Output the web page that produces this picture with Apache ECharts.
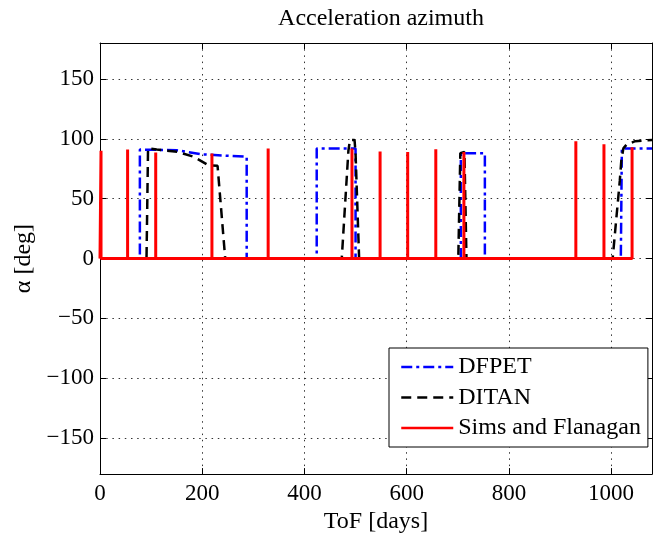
<!DOCTYPE html>
<html><head><meta charset="utf-8">
<script src="https://cdn.jsdelivr.net/npm/echarts@6/dist/echarts.min.js"></script>
<style>html,body{margin:0;padding:0;background:#fff}#c{width:653px;height:539px}</style>
</head><body><div id="c"></div>
<script>
// ---- data ----
const xTicks = [0, 200, 400, 600, 800, 1000];
const yTicks = [-150, -100, -50, 0, 50, 100, 150];
const xRange = [0, 1080];
const yRange = [-180, 180];

const dfpetDays  = [0, 78, 78, 150, 200, 287, 287, 424, 424, 500, 500, 706, 706, 753, 753, 1019, 1021, 1080];
const dfpetAlpha = [0, 0, 91, 90.5, 87, 85, 0, 0, 92, 92, 0, 0, 88, 88, 0, 0, 92, 92];

const ditanDays  = [0, 91, 94, 111, 153, 183, 212, 230, 245, 473, 486, 489, 498, 500, 507, 701, 705, 713, 717, 1003, 1017, 1020, 1024, 1030, 1047, 1080];
const ditanAlpha = [0, 0, 92, 91, 89, 85, 78, 77.5, 0, 0, 90, 99, 99, 88, 0, 0, 88, 89, 0, 0, 65, 82, 92, 95, 98, 99];

const simsSpikeDays  = [2, 54, 109, 219, 329, 493, 548, 602, 657, 712, 931, 986, 1041];
const simsSpikeAlpha = [90, 91, 88.5, 87.7, 92, 92, 89.4, 89, 91.3, 89, 98, 95.4, 93];
const simsStartDay = 0;

// ---- build series data ----
const dfpetData = dfpetDays.map((d, i) => [d, dfpetAlpha[i]]);
const ditanData = ditanDays.map((d, i) => [d, ditanAlpha[i]]);
const simsData = [[simsStartDay, 0]];
simsSpikeDays.forEach((d, i) => { simsData.push([d, 0], [d, simsSpikeAlpha[i]], [d, 0]); });

const FONT = 'Liberation Serif';
const plain = v => String(v).replace('-', '\u2212');

function xAx(pos, main) {
  return {
    type: 'value', position: pos, min: xRange[0], max: xRange[1],
    axisLine: { show: true, onZero: false, lineStyle: { color: '#000', width: 1 } },
    axisTick: { show: true, inside: true, length: 6, customValues: xTicks, lineStyle: { color: '#000' } },
    axisLabel: { show: main, customValues: xTicks, margin: 8, fontFamily: FONT, fontSize: 23, color: '#000', formatter: plain },
    splitLine: { show: main, lineStyle: { color: '#333', width: 1, type: [1.5, 4.7] } },
    name: main ? 'ToF [days]' : '', nameLocation: 'middle', nameGap: 30,
    nameTextStyle: { fontFamily: FONT, fontSize: 24, color: '#000' }
  };
}
function yAx(pos, main) {
  return {
    type: 'value', position: pos, min: yRange[0], max: yRange[1],
    axisLine: { show: true, onZero: false, lineStyle: { color: '#000', width: 1 } },
    axisTick: { show: true, inside: true, length: 6, customValues: yTicks, lineStyle: { color: '#000' } },
    axisLabel: { show: main, customValues: yTicks, margin: 6, fontFamily: FONT, fontSize: 23, color: '#000', formatter: plain },
    splitLine: { show: main, lineStyle: { color: '#333', width: 1, type: [1.5, 4.7] } },
    name: main ? 'α [deg]' : '', nameLocation: 'middle', nameGap: 64,
    nameTextStyle: { fontFamily: FONT, fontSize: 24, color: '#000' }
  };
}

const chart = echarts.init(document.getElementById('c'), null, { renderer: 'canvas' });
chart.setOption({
  animation: false,
  backgroundColor: '#fff',
  title: {
    text: 'Acceleration azimuth', left: 376, top: 2, textAlign: 'center',
    textStyle: { fontFamily: FONT, fontSize: 24, fontWeight: 'normal', color: '#000' }
  },
  grid: { left: 100, right: 1, top: 43, bottom: 60, containLabel: false },
  xAxis: [xAx('bottom', true), xAx('top', false)],
  yAxis: [yAx('left', true), yAx('right', false)],
  legend: {
    orient: 'vertical', left: 389, top: 348,
    padding: [7, 7, 7, 11], itemGap: 6.5, itemWidth: 52, itemHeight: 14,
    borderColor: '#000', borderWidth: 1, backgroundColor: '#fff', borderRadius: 0,
    itemStyle: { opacity: 0 },
    lineStyle: { width: 2.5 },
    textStyle: { fontFamily: FONT, fontSize: 24, color: '#000', lineHeight: 24 },
    data: ['DFPET', 'DITAN', 'Sims and Flanagan']
  },
  series: [
    { name: 'DFPET', type: 'line', data: dfpetData, symbol: 'none', xAxisIndex: 0, yAxisIndex: 0,
      lineStyle: { color: '#0000ff', width: 2.5, type: [11, 4, 3, 4] }, itemStyle: { color: '#0000ff' } },
    { name: 'DITAN', type: 'line', data: ditanData, symbol: 'none', xAxisIndex: 0, yAxisIndex: 0,
      lineStyle: { color: '#000', width: 2.5, type: [10, 6] }, itemStyle: { color: '#000' } },
    { name: 'Sims and Flanagan', type: 'line', data: simsData, symbol: 'none', xAxisIndex: 0, yAxisIndex: 0,
      lineStyle: { color: '#ff0000', width: 3 }, itemStyle: { color: '#ff0000' } }
  ]
});
</script></body></html>
